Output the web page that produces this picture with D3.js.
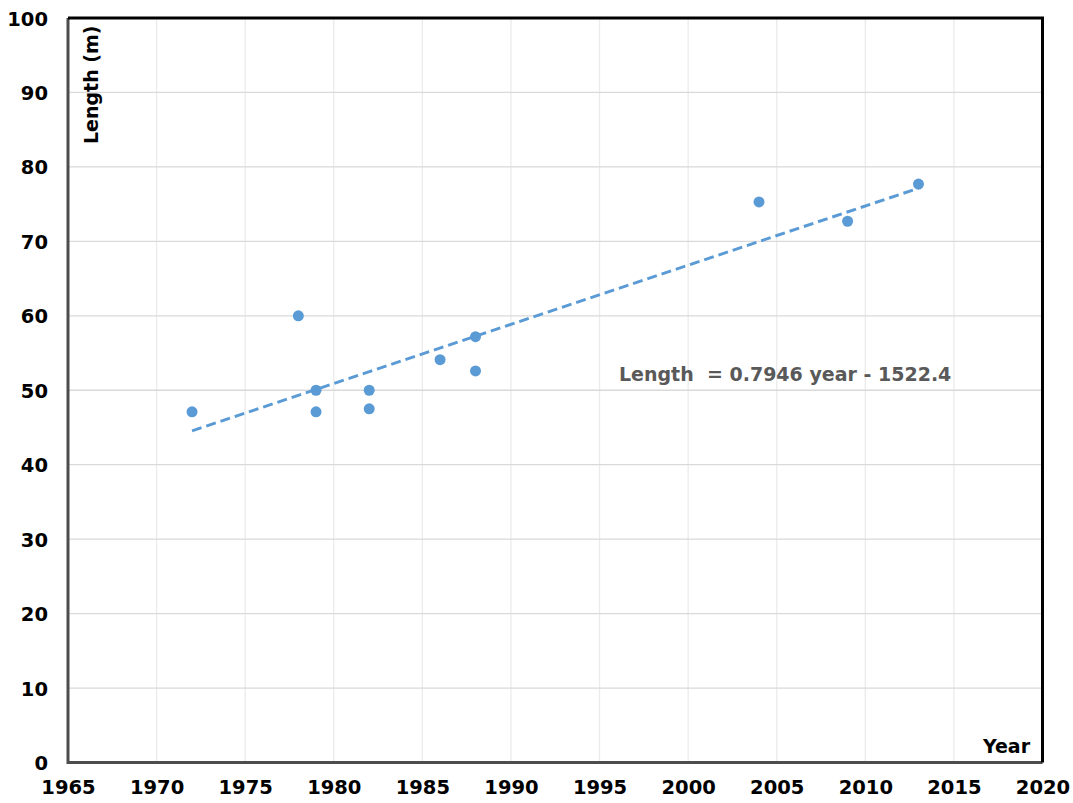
<!DOCTYPE html>
<html>
<head>
<meta charset="utf-8">
<script src="https://cdn.jsdelivr.net/npm/d3@7"></script>
<style>
  body { margin: 0; background: #fff; }
  text { font-family: "DejaVu Sans", Verdana, sans-serif; font-weight: bold; }
</style>
</head>
<body>
<div id="chart"></div>
<script>
// data
const years   = [1972, 1978, 1979, 1979, 1982, 1982, 1986, 1988, 1988, 2004, 2009, 2013];
const lengths = [47.1, 60.0, 50.0, 47.1, 50.0, 47.5, 54.1, 57.2, 52.6, 75.3, 72.7, 77.7];
const xTicks = [1965, 1970, 1975, 1980, 1985, 1990, 1995, 2000, 2005, 2010, 2015, 2020];
const yTicks = [0, 10, 20, 30, 40, 50, 60, 70, 80, 90, 100];
const slope = 0.7946, intercept = -1522.4;
const trendLabel = 'Length  = 0.7946 year - 1522.4';

const W = 1073, H = 803;
const m = {left: 68, right: 30.5, top: 18, bottom: 40.5};

const svg = d3.select('#chart').append('svg')
  .attr('width', W).attr('height', H);

const x = d3.scaleLinear().domain([1965, 2020]).range([m.left, W - m.right]);
const y = d3.scaleLinear().domain([0, 100]).range([H - m.bottom, m.top]);

// grid
svg.append('g')
  .selectAll('line')
  .data(xTicks.slice(1, -1))
  .join('line')
    .attr('x1', d => x(d)).attr('x2', d => x(d))
    .attr('y1', y(0)).attr('y2', y(100))
    .attr('stroke', '#ebebeb').attr('stroke-width', 1.3);

svg.append('g')
  .selectAll('line')
  .data(yTicks.slice(1, -1))
  .join('line')
    .attr('x1', x(1965)).attr('x2', x(2020))
    .attr('y1', d => y(d)).attr('y2', d => y(d))
    .attr('stroke', '#d9d9d9').attr('stroke-width', 1.3);

// axes, labels only
const xAxis = svg.append('g')
  .attr('transform', `translate(0 ${y(0)})`)
  .call(d3.axisBottom(x).tickValues(xTicks).tickFormat(d3.format('d')).tickSize(0).tickPadding(20));
const yAxis = svg.append('g')
  .attr('transform', `translate(${x(1965)} 0)`)
  .call(d3.axisLeft(y).tickValues(yTicks).tickSize(0).tickPadding(20));

[xAxis, yAxis].forEach(a => {
  a.select('.domain').remove();
  a.selectAll('text')
    .attr('font-size', 19.5)
    .attr('font-family', '"DejaVu Sans", Verdana, sans-serif')
    .attr('font-weight', 'bold')
    .attr('fill', '#000');
});
yAxis.selectAll('text').attr('dy', '0.36em');
xAxis.selectAll('text').attr('dy', '0.6em');

// frame: dark grey left/bottom, black top/right
svg.append('path')
  .attr('d', `M${x(1965)},${y(100)}V${y(0)}H${x(2020)}`)
  .attr('fill', 'none').attr('stroke', '#4d4d4d').attr('stroke-width', 3);
svg.append('path')
  .attr('d', `M${x(1965)},${y(100)}H${x(2020)}V${y(0)}`)
  .attr('fill', 'none').attr('stroke', '#000').attr('stroke-width', 3);

// trendline
const x0 = d3.min(years), x1 = d3.max(years);
svg.append('line')
  .attr('x1', x(x0)).attr('y1', y(slope * x0 + intercept))
  .attr('x2', x(x1)).attr('y2', y(slope * x1 + intercept))
  .attr('stroke', '#5b9bd5').attr('stroke-width', 3)
  .attr('stroke-dasharray', '10 5');

// points
svg.append('g')
  .selectAll('circle')
  .data(years.map((yr, i) => [yr, lengths[i]]))
  .join('circle')
    .attr('cx', d => x(d[0]))
    .attr('cy', d => y(d[1]))
    .attr('r', 5.5)
    .attr('fill', '#5b9bd5');

// trendline label
svg.append('text')
  .attr('x', 619).attr('y', 381)
  .attr('font-size', 19).attr('fill', '#595959')
  .style('white-space', 'pre')
  .text(trendLabel);

// axis titles
svg.append('text')
  .attr('transform', `translate(98 144) rotate(-90)`)
  .attr('font-size', 19).attr('fill', '#000')
  .text('Length (m)');

svg.append('text')
  .attr('x', x(2020) - 12.5).attr('y', 753)
  .attr('text-anchor', 'end')
  .attr('font-size', 19).attr('fill', '#000')
  .text('Year');
</script>
</body>
</html>
